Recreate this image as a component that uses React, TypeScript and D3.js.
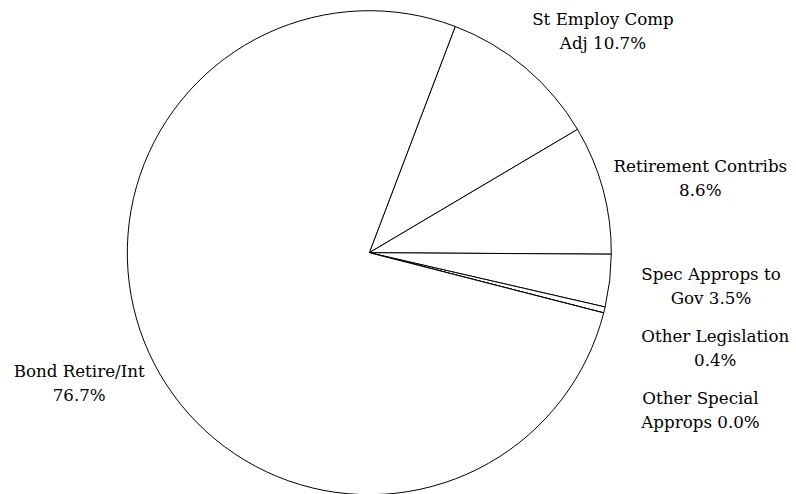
import { useEffect, useRef } from "react";
import * as d3 from "d3";

// Slice data, clockwise from the top-right boundary
const categories = [
  "St Employ Comp Adj",
  "Retirement Contribs",
  "Spec Approps to Gov",
  "Other Legislation",
  "Other Special Approps",
  "Bond Retire/Int",
];
const shares = [10.7, 8.6, 3.5, 0.4, 0.0, 76.7];

export default function App() {
  const svgRef = useRef<SVGSVGElement>(null);

  useEffect(() => {
    if (!svgRef.current) return;
    const svg = d3.select(svgRef.current);
    svg.selectAll("*").remove();

    const cx = 369.3;
    const cy = 252.7;
    const radius = 242;
    const fontSize = 16.7;
    const lineH = 24;
    const capH = fontSize * 0.73;
    const wrapWidth = 174;
    const edgeR = radius + 11; // where the label's near edge sits

    const g = svg.append("g").attr("transform", `translate(${cx},${cy})`);

    const start = (20.8 * Math.PI) / 180;
    const pie = d3
      .pie<number>()
      .sort(null)
      .value((d) => d)
      .startAngle(start)
      .endAngle(start + Math.PI * 2);
    const arcs = pie(shares);

    const arc = d3.arc<d3.PieArcDatum<number>>().innerRadius(0).outerRadius(radius);

    g.selectAll("path.slice")
      .data(arcs)
      .join("path")
      .attr("class", "slice")
      .attr("d", arc)
      .attr("fill", "#ffffff")
      .attr("stroke", "#000000")
      .attr("stroke-width", 1);

    type Lab = {
      node: d3.Selection<SVGTextElement, unknown, null, undefined>;
      lines: string[];
      w: number;
      h: number;
      a: number;
      edge: number;
      y: number;
      right: boolean;
      crowded: boolean;
    };
    const labs: Lab[] = [];

    arcs.forEach((d, i) => {
      const text = `${categories[i]} ${shares[i].toFixed(1)}%`;
      const node = g
        .append("text")
        .attr("font-family", "'DejaVu Serif', serif")
        .attr("font-size", fontSize)
        .attr("fill", "#000")
        .attr("text-anchor", "middle");

      // word wrap
      const words = text.split(" ");
      const lines: string[] = [];
      let cur = "";
      const probe = node.append("tspan");
      words.forEach((wd) => {
        const test = cur ? cur + " " + wd : wd;
        probe.text(test);
        if (cur && (probe.node() as SVGTSpanElement).getComputedTextLength() > wrapWidth) {
          lines.push(cur);
          cur = wd;
        } else {
          cur = test;
        }
      });
      lines.push(cur);
      let w = 0;
      lines.forEach((l) => {
        probe.text(l);
        w = Math.max(w, (probe.node() as SVGTSpanElement).getComputedTextLength());
      });
      probe.remove();

      const h = capH + (lines.length - 1) * lineH;
      const a = (d.startAngle + d.endAngle) / 2;
      const s = Math.sin(a);
      const c = Math.cos(a);
      const vPad = 33 + 5 * c;
      labs.push({
        node,
        lines,
        w,
        h,
        a,
        edge: edgeR * s,
        y: -(edgeR + vPad) * c,
        right: s >= 0,
        crowded: false,
      });
    });

    // collision pass: push down, crowded labels go into a column clear of the pie
    [true, false].forEach((right) => {
      const side = labs.filter((l) => l.right === right).sort((p, q) => p.y - q.y);
      for (let k = 1; k < side.length; k++) {
        const prev = side[k - 1];
        const minY = prev.y + prev.h / 2 + side[k].h / 2 + 26;
        if (side[k].y < minY) {
          side[k].y = minY;
          side[k].crowded = true;
          prev.crowded = true;
        }
      }
      side.forEach((l) => {
        if (l.crowded) {
          const col = radius + 30;
          l.edge = right ? Math.max(l.edge, col) : Math.min(l.edge, -col);
        }
      });
    });

    labs.forEach((l) => {
      const xc = l.right ? l.edge + l.w / 2 : l.edge - l.w / 2;
      const y0 = l.y - ((l.lines.length - 1) * lineH - capH) / 2;
      l.lines.forEach((line, j) => {
        l.node
          .append("tspan")
          .attr("x", xc)
          .attr("y", y0 + j * lineH)
          .text(line);
      });
    });
  }, []);

  return (
    <svg
      ref={svgRef}
      width={796}
      height={494}
      style={{ position: "absolute", left: 0, top: 0, background: "#fff" }}
    />
  );
}
